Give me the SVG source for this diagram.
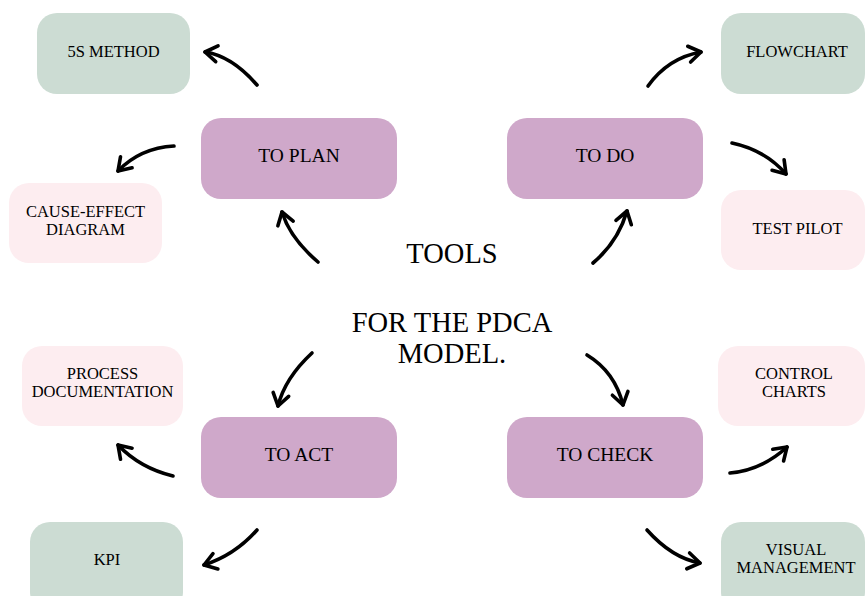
<svg xmlns="http://www.w3.org/2000/svg" width="865" height="596" viewBox="0 0 865 596">
  <style>
    .stage { fill: #cfa8ca; }
    .tool-green { fill: #ccdcd3; }
    .tool-pink { fill: #fdedf0; }
    text { font-family: "Liberation Serif", "Times New Roman", serif; fill: #000; text-anchor: middle; }
    .lbl { font-size: 16.5px; }
    .stage-lbl { font-size: 19.5px; }
    .title { font-size: 28.5px; }
    .arrow { fill: none; stroke: #000; stroke-width: 3.6; stroke-linecap: round; stroke-linejoin: round; marker-end: url(#head); }
  </style>
  <defs>
    <marker id="head" markerUnits="userSpaceOnUse" orient="auto" overflow="visible" markerWidth="1" markerHeight="1" refX="0" refY="0">
      <path d="M -12 -8 L 0 0 L -12 8" fill="none" stroke="#000" stroke-width="3.6" stroke-linecap="round" stroke-linejoin="round"/>
    </marker>
  </defs>
  <rect width="865" height="596" fill="#ffffff"/>

  <!-- central title -->
  <g id="title">
    <text class="title" x="452" y="263">TOOLS</text>
    <text class="title" x="452" y="332">FOR THE PDCA</text>
    <text class="title" x="452" y="363">MODEL.</text>
  </g>

  <!-- PDCA stages -->
  <g id="to-plan">
    <rect class="stage" x="201" y="118" width="196" height="81" rx="20"/>
    <text class="stage-lbl" x="299" y="162">TO PLAN</text>
  </g>
  <g id="to-do">
    <rect class="stage" x="507" y="118" width="196" height="81" rx="20"/>
    <text class="stage-lbl" x="605" y="162">TO DO</text>
  </g>
  <g id="to-act">
    <rect class="stage" x="201" y="417" width="196" height="81" rx="20"/>
    <text class="stage-lbl" x="299" y="461">TO ACT</text>
  </g>
  <g id="to-check">
    <rect class="stage" x="507" y="417" width="196" height="81" rx="20"/>
    <text class="stage-lbl" x="605" y="461">TO CHECK</text>
  </g>

  <!-- tools -->
  <g id="five-s">
    <rect class="tool-green" x="37" y="13" width="153" height="81" rx="20"/>
    <text class="lbl" x="113.5" y="57">5S METHOD</text>
  </g>
  <g id="cause-effect">
    <rect class="tool-pink" x="9" y="183" width="153" height="80" rx="20"/>
    <text class="lbl" x="85.5" y="217">CAUSE-EFFECT</text>
    <text class="lbl" x="85.5" y="235">DIAGRAM</text>
  </g>
  <g id="flowchart">
    <rect class="tool-green" x="721" y="13" width="144" height="81" rx="20"/>
    <text class="lbl" x="797" y="57">FLOWCHART</text>
  </g>
  <g id="test-pilot">
    <rect class="tool-pink" x="721" y="190" width="144" height="80" rx="20"/>
    <text class="lbl" x="797.5" y="234">TEST PILOT</text>
  </g>
  <g id="process-doc">
    <rect class="tool-pink" x="22" y="346" width="161" height="80" rx="20"/>
    <text class="lbl" x="102.5" y="379">PROCESS</text>
    <text class="lbl" x="102.5" y="397">DOCUMENTATION</text>
  </g>
  <g id="kpi">
    <rect class="tool-green" x="30" y="522" width="153" height="90" rx="20"/>
    <text class="lbl" x="107" y="565">KPI</text>
  </g>
  <g id="control-charts">
    <rect class="tool-pink" x="718" y="346" width="147" height="80" rx="20"/>
    <text class="lbl" x="794" y="379">CONTROL</text>
    <text class="lbl" x="794" y="397">CHARTS</text>
  </g>
  <g id="visual-mgmt">
    <rect class="tool-green" x="721" y="522" width="144" height="90" rx="20"/>
    <text class="lbl" x="796" y="555">VISUAL</text>
    <text class="lbl" x="796" y="573">MANAGEMENT</text>
  </g>

  <!-- connectors -->
  <g id="connectors">
    <path class="arrow" d="M 257 85 Q 232 56 205 52"/>
    <path class="arrow" d="M 174 146 Q 140 148 118 171"/>
    <path class="arrow" d="M 318 262 Q 290 238 282 212"/>
    <path class="arrow" d="M 648 86 Q 668 58 701 52"/>
    <path class="arrow" d="M 732 143 Q 765 150 786 174"/>
    <path class="arrow" d="M 593 263 Q 618 242 627 211"/>
    <path class="arrow" d="M 312 353 Q 285 378 278 406"/>
    <path class="arrow" d="M 173 476 Q 140 468 118 445"/>
    <path class="arrow" d="M 257 530 Q 235 555 204 565"/>
    <path class="arrow" d="M 587 355 Q 615 372 623 405"/>
    <path class="arrow" d="M 730 473 Q 762 470 787 447"/>
    <path class="arrow" d="M 647 530 Q 672 558 700 563"/>
  </g>
</svg>
